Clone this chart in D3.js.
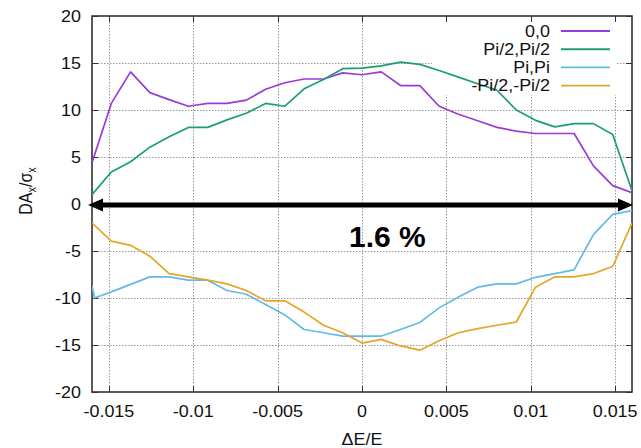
<!DOCTYPE html>
<html>
<head>
<meta charset="utf-8">
<script src="https://cdn.jsdelivr.net/npm/d3@7"></script>
<style>
  html, body { margin: 0; padding: 0; background: #fff; }
  svg { display: block; }
  text { font-family: "Liberation Sans", Arial, sans-serif; fill: #111; }
</style>
</head>
<body>
<svg id="chart" width="641" height="448"></svg>
<script>
// Energy deviation grid (dE/E) shared by the scans
const deltaE = [-0.016, -0.014857, -0.013714, -0.012571, -0.011429, -0.010286, -0.009143,
  -0.008, -0.006857, -0.005714, -0.004571, -0.003429, -0.002286, -0.001143, 0,
  0.001143, 0.002286, 0.003429, 0.004571, 0.005714, 0.006857, 0.008, 0.009143,
  0.010286, 0.011429, 0.012571, 0.013714, 0.014857, 0.016];

// Pi,Pi scan has one extra sample just inside the lower edge
const deltaEPiPi = [-0.016, -0.01585, -0.014857, -0.013714, -0.012571, -0.011429, -0.010286,
  -0.009143, -0.008, -0.006857, -0.005714, -0.004571, -0.003429, -0.002286, -0.001143, 0,
  0.001143, 0.002286, 0.003429, 0.004571, 0.005714, 0.006857, 0.008, 0.009143,
  0.010286, 0.011429, 0.012571, 0.013714, 0.014857, 0.016];

// Dynamic aperture DA_x / sigma_x for each phase setting
const da00 = [4.4, 10.7, 14.05, 11.85, 11.1, 10.4, 10.7, 10.7, 11.05, 12.2, 12.9, 13.3, 13.3,
  13.95, 13.75, 14.05, 12.6, 12.6, 10.4, 9.55, 8.85, 8.15, 7.75, 7.5, 7.5, 7.5, 4.05, 1.95, 1.2];
const daHalfPi = [1.0, 3.4, 4.5, 6.05, 7.15, 8.15, 8.15, 8.95, 9.65, 10.7, 10.4, 12.25, 13.25,
  14.4, 14.45, 14.7, 15.1, 14.85, 14.2, 13.5, 12.8, 12.1, 10.0, 8.9, 8.2, 8.55, 8.55, 7.4, 1.4];
const daPi = [-8.7, -10.0, -9.35, -8.55, -7.75, -7.75, -8.1, -8.1, -9.2, -9.6, -10.7, -11.8,
  -13.35, -13.7, -14.05, -14.05, -14.05, -13.35, -12.6, -11.05, -9.9, -8.85, -8.5, -8.5,
  -7.8, -7.4, -7.0, -3.25, -1.1, -0.7];
const daMinusHalfPi = [-2.0, -3.95, -4.4, -5.55, -7.4, -7.75, -8.1, -8.5, -9.2, -10.3, -10.3,
  -11.5, -12.9, -13.7, -14.8, -14.4, -15.1, -15.55, -14.55, -13.7, -13.25, -12.9, -12.55,
  -8.85, -7.75, -7.75, -7.4, -6.65, -2.0];

const seriesNames = ["0,0", "Pi/2,Pi/2", "Pi,Pi", "-Pi/2,-Pi/2"];
const seriesColors = ["#9b3bd6", "#1a9e78", "#62bae8", "#e5a526"];

const xTicks = [-0.015, -0.01, -0.005, 0, 0.005, 0.01, 0.015];
const xTickLabels = ["-0.015", "-0.01", "-0.005", "0", "0.005", "0.01", "0.015"];
const yTicks = [-20, -15, -10, -5, 0, 5, 10, 15, 20];

// Momentum acceptance arrow and its label
const acceptanceSpan = [-0.016, 0.016];
const acceptanceLabel = "1.6 %";

const series = [
  { name: seriesNames[0], color: seriesColors[0], xs: deltaE, ys: da00 },
  { name: seriesNames[1], color: seriesColors[1], xs: deltaE, ys: daHalfPi },
  { name: seriesNames[2], color: seriesColors[2], xs: deltaEPiPi, ys: daPi },
  { name: seriesNames[3], color: seriesColors[3], xs: deltaE, ys: daMinusHalfPi }
];

const svg = d3.select("#chart");
const plot = { left: 92, right: 632, top: 16, bottom: 392 };
const stretch = 1.12;   // horizontally widened label type
const fontSize = 16;

const x = d3.scaleLinear().domain([-0.016, 0.016]).range([plot.left, plot.right]);
const y = d3.scaleLinear().domain([-20, 20]).range([plot.bottom, plot.top]);

function label(g, px, py, str, anchor, extra) {
  return g.append("text")
    .attr("transform", `translate(${px},${py}) ${extra || ""} scale(${stretch},1)`)
    .attr("text-anchor", anchor)
    .attr("font-size", fontSize)
    .text(str);
}

// Dotted grid
const grid = svg.append("g")
  .attr("stroke", "#9a9a9a").attr("stroke-width", 1).attr("stroke-dasharray", "1.5,1.5");
grid.selectAll("line.v").data(xTicks).join("line").attr("class", "v")
  .attr("x1", d => Math.round(x(d)) + 0.5).attr("x2", d => Math.round(x(d)) + 0.5)
  .attr("y1", plot.top).attr("y2", plot.bottom);
grid.selectAll("line.h").data(yTicks.filter(d => d > -20 && d < 20)).join("line").attr("class", "h")
  .attr("y1", d => Math.round(y(d)) + 0.5).attr("y2", d => Math.round(y(d)) + 0.5)
  .attr("x1", plot.left).attr("x2", plot.right);

// Keep the grid out of the key area
svg.append("rect")
  .attr("x", 432).attr("y", plot.top).attr("width", 184).attr("height", 79)
  .attr("fill", "#fff");

// Frame with inward ticks on all sides
const frame = svg.append("g").attr("stroke", "#333").attr("fill", "none");
frame.append("rect")
  .attr("x", plot.left).attr("y", plot.top)
  .attr("width", plot.right - plot.left).attr("height", plot.bottom - plot.top)
  .attr("stroke-width", 1.6);
const tickLen = 6;
xTicks.forEach(d => {
  const px = Math.round(x(d)) + 0.5;
  frame.append("line").attr("x1", px).attr("x2", px).attr("y1", plot.top).attr("y2", plot.top + tickLen);
  frame.append("line").attr("x1", px).attr("x2", px).attr("y1", plot.bottom).attr("y2", plot.bottom - tickLen);
});
yTicks.forEach(d => {
  const py = Math.round(y(d)) + 0.5;
  frame.append("line").attr("y1", py).attr("y2", py).attr("x1", plot.left).attr("x2", plot.left + tickLen);
  frame.append("line").attr("y1", py).attr("y2", py).attr("x1", plot.right).attr("x2", plot.right - tickLen);
});

// Tick labels
const labels = svg.append("g");
yTicks.forEach(d => {
  label(labels, plot.left - 11, y(d) + 5.5, String(d), "end");
});
xTicks.forEach((d, i) => {
  label(labels, x(d), 417, xTickLabels[i], "middle");
});

// Axis titles
label(labels, x(0), 445, "ΔE/E", "middle");
const yTitle = svg.append("text")
  .attr("transform", `translate(32,191) rotate(-90) scale(1,${stretch})`)
  .attr("text-anchor", "middle")
  .attr("font-size", fontSize);
yTitle.append("tspan").text("DA");
yTitle.append("tspan").attr("font-size", 11).attr("dy", 4).text("x");
yTitle.append("tspan").attr("dy", -4).text("/σ");
yTitle.append("tspan").attr("font-size", 11).attr("dy", 4).text("x");

// Data lines
const line = d3.line().x(d => x(d[0])).y(d => y(d[1]));
svg.append("defs").append("clipPath").attr("id", "plotClip")
  .append("rect").attr("x", plot.left).attr("y", plot.top)
  .attr("width", plot.right - plot.left).attr("height", plot.bottom - plot.top);
svg.append("g").attr("clip-path", "url(#plotClip)")
  .selectAll("path").data(series).join("path")
  .attr("d", s => line(s.xs.map((v, i) => [v, s.ys[i]])))
  .attr("fill", "none")
  .attr("stroke", s => s.color)
  .attr("stroke-width", 1.7)
  .attr("stroke-linejoin", "round");

// Key
const key = svg.append("g");
series.forEach((s, i) => {
  const ry = 31 + i * 18.2;
  label(key, 550, ry + 5.5, s.name, "end");
  key.append("line")
    .attr("x1", 561).attr("x2", 610).attr("y1", ry).attr("y2", ry)
    .attr("stroke", s.color).attr("stroke-width", 1.9);
});

// Acceptance arrow along DA = 0
const ay = y(0) + 1;
const ax0 = x(acceptanceSpan[0]) - 4;
const ax1 = x(acceptanceSpan[1]) + 1;
const headL = 15, headH = 6.5;
const arrow = svg.append("g").attr("fill", "#000");
arrow.append("line")
  .attr("x1", ax0 + headL - 1).attr("x2", ax1 - headL + 1)
  .attr("y1", ay).attr("y2", ay)
  .attr("stroke", "#000").attr("stroke-width", 5);
arrow.append("path")
  .attr("d", `M${ax0},${ay} L${ax0 + headL},${ay - headH} L${ax0 + headL},${ay + headH} Z`);
arrow.append("path")
  .attr("d", `M${ax1},${ay} L${ax1 - headL},${ay - headH} L${ax1 - headL},${ay + headH} Z`);

svg.append("text")
  .attr("x", x(0) - 13).attr("y", 247)
  .attr("font-size", 30).attr("font-weight", "bold")
  .style("fill", "#000")
  .text(acceptanceLabel);
</script>
</body>
</html>
